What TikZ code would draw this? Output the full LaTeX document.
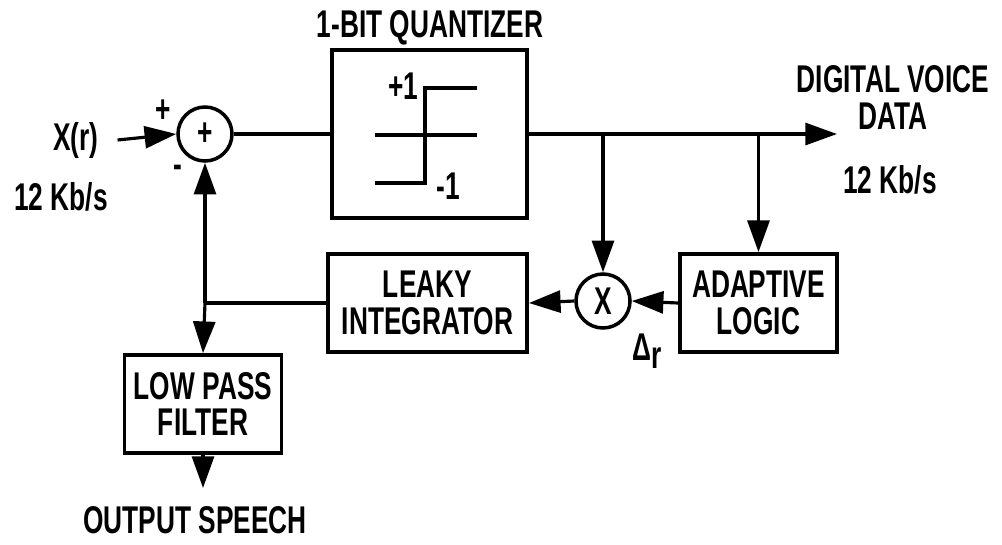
\documentclass[tikz,border=0pt]{standalone}
\usepackage{fontspec}
\setmainfont{Liberation Sans}[FakeStretch=0.68]
\usetikzlibrary{arrows.meta, positioning}

\begin{document}
\begin{tikzpicture}[
        every node/.style={font=\fontsize{22}{21}\selectfont\bfseries,align=center},
        line width=1.8pt,
        arr/.style={-{Triangle[length=18pt,width=12.5pt]}},
        blk/.style={draw,line width=2.2pt,minimum width=3.14cm,minimum height=1.96cm,inner sep=0pt},
        junct/.style={draw,circle,line width=2pt,minimum size=1.08cm,inner sep=0pt}]
        \useasboundingbox (0,0) rectangle (20.04,-10.88);
        % top row
        \node[junct] (sum) at (4.10,-2.68) {+};
        \node[anchor=east,inner sep=0pt] (xin) at (2.0,-2.80) {X(r)};
        \node (plus) at (3.26,-2.22) {+};
        \node (minus) at (3.56,-3.42) {-};
        \node (ratein) at (1.22,-3.94) {12 Kb/s};
        \node[blk,minimum width=3.9cm,minimum height=3.36cm] (quant) at (8.59,-2.68) {};
        \node (qtitle) at (8.60,-0.56) {1-BIT QUANTIZER};
        \node[anchor=east] (pone) at (8.52,-1.72) {+1};
        \node[anchor=west] (mone) at (8.58,-3.72) {-1};
        \draw (9.54,-1.76) -- (8.50,-1.76) -- (8.50,-3.66) -- (7.50,-3.66);
        \draw (7.50,-2.70) -- (9.54,-2.70);
        \coordinate (dout) at (16.74,-2.68);
        \node[anchor=south] (dvd) at (17.86,-2.74) {DIGITAL VOICE\\DATA};
        \node (rateout) at (17.80,-3.60) {12 Kb/s};
        % feedback row
        \node[junct] (mult) at (12.06,-6.02) {X};
        \node[blk] (adapt) at (15.17,-6.06) {ADAPTIVE\\LOGIC};
        \node[blk,minimum width=3.98cm] (leaky) at (8.55,-6.06) {LEAKY\\INTEGRATOR};
        \node (delta) at (12.94,-7.02) {Δ\raisebox{-0.4ex}{r}};
        \coordinate (junc) at (4.10,-6.06);
        \node[blk] (lpf) at (4.06,-8.08) {LOW PASS\\FILTER};
        \coordinate (speech) at (4.06,-9.76);
        \node (outsp) at (3.90,-10.40) {OUTPUT SPEECH};
        \coordinate (tap1) at (12.06,-2.68);
        \coordinate (tap2) at (15.17,-2.68);

        \draw[arr] ([xshift=10pt]xin.east) -- (sum.west);
        \draw (sum.east) -- (quant.west);
        \draw[arr] (quant.east) -- (dout);
        \draw[arr] (tap1) -- (mult.north);
        \draw[arr] (tap2) -- (adapt.north);
        \draw[arr] (adapt.west) -- (mult.east);
        \draw[arr] (mult.west) -- (leaky.east);
        \draw (leaky.west) -- (junc);
        \draw[arr] (junc) -- (sum.south);
        \draw[arr] (junc) -- (lpf.north);
        \draw[arr] (lpf.south) -- (speech);
      \end{tikzpicture}
\end{document}
